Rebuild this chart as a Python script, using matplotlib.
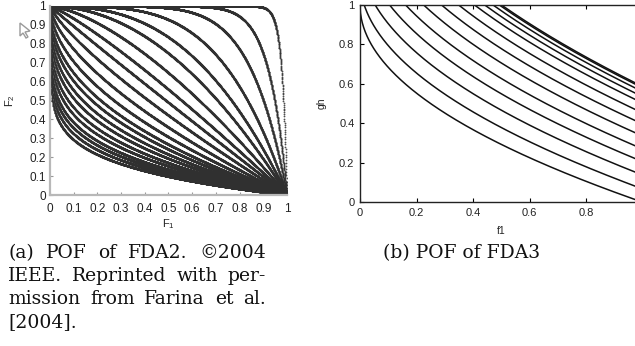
import numpy as np
import matplotlib.pyplot as plt
from matplotlib.patches import Polygon

# FDA2 front: F2 = 1 - F1**a, one exponent per curve
fda2_exponents = [46, 13, 6.6, 3.8, 2.6, 2.0, 1.5, 1.18, 0.97, 0.79, 0.64,
                  0.53, 0.45, 0.40, 0.35, 0.31, 0.27, 0.24, 0.21, 0.19, 0.17, 0.15]
# FDA3 front: gh = (1+G)*(1 - sqrt(f1/(1+G))), G per curve
fda3_G = [0, 0.13, 0.26, 0.38, 0.49, 0.60, 0.70, 0.79, 0.87, 0.92, 0.96, 0.99, 1.0]

fda2_ticks = [0, 0.1, 0.2, 0.3, 0.4, 0.5, 0.6, 0.7, 0.8, 0.9, 1]
fda2_labels = ["0", "0.1", "0.2", "0.3", "0.4", "0.5", "0.6", "0.7", "0.8", "0.9", "1"]
fda3_xticks = [0, 0.2, 0.4, 0.6, 0.8]
fda3_xlabels = ["0", "0.2", "0.4", "0.6", "0.8"]
fda3_yticks = [0, 0.2, 0.4, 0.6, 0.8, 1]
fda3_ylabels = ["0", "0.2", "0.4", "0.6", "0.8", "1"]

caption_a = ["(a) POF of FDA2. \u00a92004",
             "IEEE. Reprinted with per-",
             "mission from Farina et al.",
             "[2004]."]
caption_b = "(b) POF of FDA3"

plt.rcParams['font.family'] = ['Liberation Sans', 'DejaVu Sans']
plt.rcParams['mathtext.default'] = 'regular'

W, H = 635, 346
fig = plt.figure(figsize=(W / 100, H / 100), dpi=100)

def px(x0, y0, x1, y1):
    # pixel box (top-left origin) -> figure fraction
    return [x0 / W, 1 - y1 / H, (x1 - x0) / W, (y1 - y0) / H]

# ---- left panel: FDA2 ----
ax1 = fig.add_axes(px(50, 6, 287, 195))
f1 = np.linspace(0, 1, 2500)
for a in fda2_exponents:
    ax1.plot(f1, 1 - f1 ** a, linestyle='none', marker='o', ms=1.3, mew=0,
             color='#303030', alpha=0.85)
ax1.set_xlim(0, 1)
ax1.set_ylim(0, 1)
ax1.set_xticks(fda2_ticks)
ax1.set_xticklabels(fda2_labels)
ax1.set_yticks(fda2_ticks)
ax1.set_yticklabels(fda2_labels)
for s in ['top', 'right']:
    ax1.spines[s].set_visible(False)
for s in ['left', 'bottom']:
    ax1.spines[s].set_color('#b8b8b8')
    ax1.spines[s].set_linewidth(1.6)
ax1.tick_params(direction='in', length=2, color='#999999', labelsize=8.5,
                labelcolor='#222222')
ax1.tick_params(axis='x', pad=6)
ax1.tick_params(axis='y', pad=3)
ax1.set_xlabel('F$_1$', fontsize=8, labelpad=1, color='#222222')
ax1.set_ylabel('F$_2$', fontsize=8, labelpad=9, color='#222222')

# ---- right panel: FDA3 (cut at the right edge like the source) ----
ax2 = fig.add_axes(px(360, 5, 643, 202.3))
x = np.linspace(0, 1, 600)
for G in fda3_G:
    ax2.plot(x, (1 + G) * (1 - np.sqrt(x / (1 + G))), color='#111111', lw=1.1)
ax2.set_xlim(0, 1)
ax2.set_ylim(0, 1)
ax2.set_xticks(fda3_xticks)
ax2.set_xticklabels(fda3_xlabels)
ax2.set_yticks(fda3_yticks)
ax2.set_yticklabels(fda3_ylabels)
for s in ax2.spines.values():
    s.set_linewidth(1.0)
    s.set_color('#222222')
ax2.tick_params(direction='in', length=3, top=True, right=True, labelsize=8,
                labelcolor='#222222', pad=4)
ax2.set_xlabel('f1', fontsize=7.5, labelpad=6, color='#222222')
ax2.set_ylabel('gh', fontsize=7.5, labelpad=9, color='#222222')

# cursor arrow left over in the screenshot
arrow = np.array([[20, 23], [20, 36], [23, 33], [26, 38], [28, 37], [25, 32], [30, 31]])
fig.patches.append(Polygon(np.column_stack([arrow[:, 0] / W, 1 - arrow[:, 1] / H]),
                           closed=True, transform=fig.transFigure, fill=False,
                           edgecolor='#9a9a9a', lw=1))

# captions, (a) justified between x=8 and x=265 px
cap_font = dict(family='DejaVu Serif', fontsize=13.5, va='center', color='#111111')
renderer = fig.canvas.get_renderer()
for i, line in enumerate(caption_a):
    y = 1 - (253 + 23 * i) / H
    words = line.split(' ')
    if i == len(caption_a) - 1:
        fig.text(8 / W, y, line, ha='left', **cap_font)
        continue
    widths = []
    for w in words:
        t = fig.text(0, 0, w, **cap_font)
        widths.append(t.get_window_extent(renderer=renderer).width)
        t.remove()
    gap = (266 - 8 - sum(widths)) / (len(words) - 1)
    xpos = 8
    for w, wd in zip(words, widths):
        fig.text(xpos / W, y, w, ha='left', **cap_font)
        xpos += wd + gap
fig.text(383 / W, 1 - 253 / H, caption_b, ha='left', **cap_font)

fig.savefig('out.png', dpi=100)
